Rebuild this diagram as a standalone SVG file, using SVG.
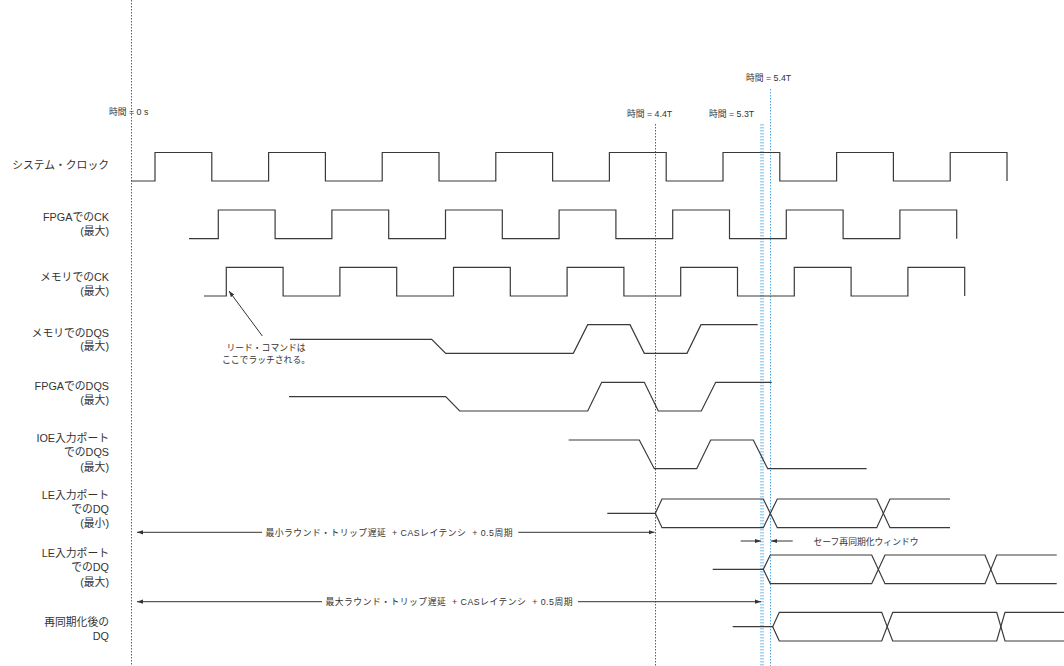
<svg xmlns="http://www.w3.org/2000/svg" width="1064" height="666" viewBox="0 0 1064 666">
<style>
.lbl{font-family:"Liberation Sans","Noto Sans CJK JP",sans-serif;font-size:10.8px;fill:#333;text-anchor:end}
.sm{font-family:"Liberation Sans","Noto Sans CJK JP",sans-serif;font-size:8.8px;fill:#333}
.w{fill:none;stroke:#3a3a3a;stroke-width:1.2}
.vd{fill:none;stroke:#1f6fb5;stroke-width:1;stroke-dasharray:1.5,1.5}
.vl{fill:none;stroke:#4ea6e6;stroke-width:1;stroke-dasharray:1.5,1.5}
.ar{fill:none;stroke:#333;stroke-width:1}
</style>
<defs>
<marker id="ah" viewBox="0 0 10 10" refX="10" refY="5" markerWidth="6" markerHeight="6" orient="auto-start-reverse" markerUnits="userSpaceOnUse">
<path d="M0,1.5 L10,5 L0,8.5 z" fill="#333"/>
</marker>
</defs>
<rect width="1064" height="666" fill="#fff"/>

<g id="time-markers">
<line class="vd" x1="131.5" y1="0" x2="131.5" y2="666"/>
<line class="vd" x1="655.5" y1="124" x2="655.5" y2="666"/>
<line class="vl" x1="761" y1="124" x2="761" y2="666"/>
<line class="vl" x1="763" y1="124" x2="763" y2="666"/>
<line class="vl" x1="770.5" y1="89" x2="770.5" y2="666"/>
<text class="sm" x="109" y="114.5">時間 = 0 s</text>
<text class="sm" x="627" y="116.5">時間 = 4.4T</text>
<text class="sm" x="709" y="116.5">時間 = 5.3T</text>
<text class="sm" x="746" y="81">時間 = 5.4T</text>
</g>

<g id="sys-clock">
<text class="lbl" x="109" y="169">システム・クロック</text>
<path class="w" d="M131,181 H155 V152.5 H211.8 V181 H268.6 V152.5 H325.4 V181 H382.2 V152.5 H439 V181 H495.8 V152.5 H552.6 V181 H609.4 V152.5 H666.2 V181 H723 V152.5 H779.8 V181 H836.6 V152.5 H893.4 V181 H950.2 V152.5 H1007 V181"/>
</g>

<g id="fpga-ck">
<text class="lbl" x="109" y="220.5">FPGAでのCK</text>
<text class="lbl" x="109" y="235">(最大)</text>
<path class="w" d="M189,238.7 H218.3 V210 H275.1 V238.7 H331.9 V210 H388.7 V238.7 H445.5 V210 H502.3 V238.7 H559.1 V210 H615.9 V238.7 H672.7 V210 H729.5 V238.7 H786.3 V210 H843.1 V238.7 H899.9 V210 H956.7 V238.7"/>
</g>

<g id="mem-ck">
<text class="lbl" x="109" y="281">メモリでのCK</text>
<text class="lbl" x="109" y="294.5">(最大)</text>
<path class="w" d="M204,296 H226.3 V267.3 H283.1 V296 H339.9 V267.3 H396.7 V296 H453.5 V267.3 H510.3 V296 H567.1 V267.3 H623.9 V296 H680.7 V267.3 H737.5 V296 H794.3 V267.3 H851.1 V296 H907.9 V267.3 H964.7 V296"/>
</g>

<g id="annotation">
<line class="ar" x1="262.3" y1="336" x2="229" y2="291" marker-end="url(#ah)"/>
<text class="sm" x="266" y="350.5" text-anchor="middle">リード・コマンドは</text>
<text class="sm" x="266" y="363" text-anchor="middle">ここでラッチされる。</text>
</g>

<g id="mem-dqs">
<text class="lbl" x="109" y="336.5">メモリでのDQS</text>
<text class="lbl" x="109" y="350">(最大)</text>
<path class="w" d="M290,339.3 H431.7 L445.7,353.3 H573.3 L587.7,324.7 H630 L644.3,353.3 H687 L701,324.7 H757.7"/>
</g>

<g id="fpga-dqs">
<text class="lbl" x="109" y="389.5">FPGAでのDQS</text>
<text class="lbl" x="109" y="404">(最大)</text>
<path class="w" d="M289,396.7 H445.7 L459.7,411 H587.7 L601.7,382.3 H644.3 L658.3,411 H701.3 L715.7,382.3 H771.7"/>
</g>

<g id="ioe-dqs">
<text class="lbl" x="109" y="442">IOE入力ポート</text>
<text class="lbl" x="109" y="456">でのDQS</text>
<text class="lbl" x="109" y="470.5">(最大)</text>
<path class="w" d="M568.7,440 H639.3 L654.3,468.7 H696.7 L710.7,440 H753.3 L767.7,468.7 H866.7"/>
</g>

<g id="le-dq-min">
<text class="lbl" x="109" y="499">LE入力ポート</text>
<text class="lbl" x="109" y="513">でのDQ</text>
<text class="lbl" x="109" y="527">(最小)</text>
<path class="w" d="M607.3,513.3 H655.3 L662,499 H763.3 L777.3,527.7 H876.7 L890,499 H950"/>
<path class="w" d="M655.3,513.3 L662,527.7 H763.3 L777.3,499 H876.7 L890,527.7 H950"/>
</g>

<g id="le-dq-max">
<text class="lbl" x="109" y="556.5">LE入力ポート</text>
<text class="lbl" x="109" y="571">でのDQ</text>
<text class="lbl" x="109" y="585.5">(最大)</text>
<path class="w" d="M712.7,569.3 H763.3 L770.3,555 H871.7 L885,583.7 H985 L996.7,555 H1056.7"/>
<path class="w" d="M763.3,569.3 L770.3,583.7 H871.7 L885,555 H985 L996.7,583.7 H1056.7"/>
</g>

<g id="resync-dq">
<text class="lbl" x="109" y="626">再同期化後の</text>
<text class="lbl" x="109" y="640">DQ</text>
<path class="w" d="M732.7,626.7 H772.7 L779.3,612.3 H881.7 L892.7,641 H996.7 L1005,612.3 H1064"/>
<path class="w" d="M772.7,626.7 L779.3,641 H881.7 L892.7,612.3 H996.7 L1005,641 H1064"/>
</g>

<g id="connectors">
<line class="ar" x1="262" y1="532.3" x2="137" y2="532.3" marker-end="url(#ah)"/>
<line class="ar" x1="518.3" y1="532.3" x2="654.5" y2="532.3" marker-end="url(#ah)"/>
<text class="sm" x="265.5" y="535.5" xml:space="preserve" textLength="247" lengthAdjust="spacing">最小ラウンド・トリップ遅延  + CASレイテンシ  + 0.5周期</text>
<line class="ar" x1="322" y1="601.7" x2="137" y2="601.7" marker-end="url(#ah)"/>
<line class="ar" x1="578" y1="601.7" x2="761" y2="601.7" marker-end="url(#ah)"/>
<text class="sm" x="325.5" y="605" xml:space="preserve" textLength="247" lengthAdjust="spacing">最大ラウンド・トリップ遅延  + CASレイテンシ  + 0.5周期</text>
<line class="ar" x1="740.7" y1="541" x2="761" y2="541" marker-end="url(#ah)"/>
<line class="ar" x1="792.7" y1="541" x2="771" y2="541" marker-end="url(#ah)"/>
<text class="sm" x="813.5" y="544.5">セーフ再同期化ウィンドウ</text>
</g>
</svg>
